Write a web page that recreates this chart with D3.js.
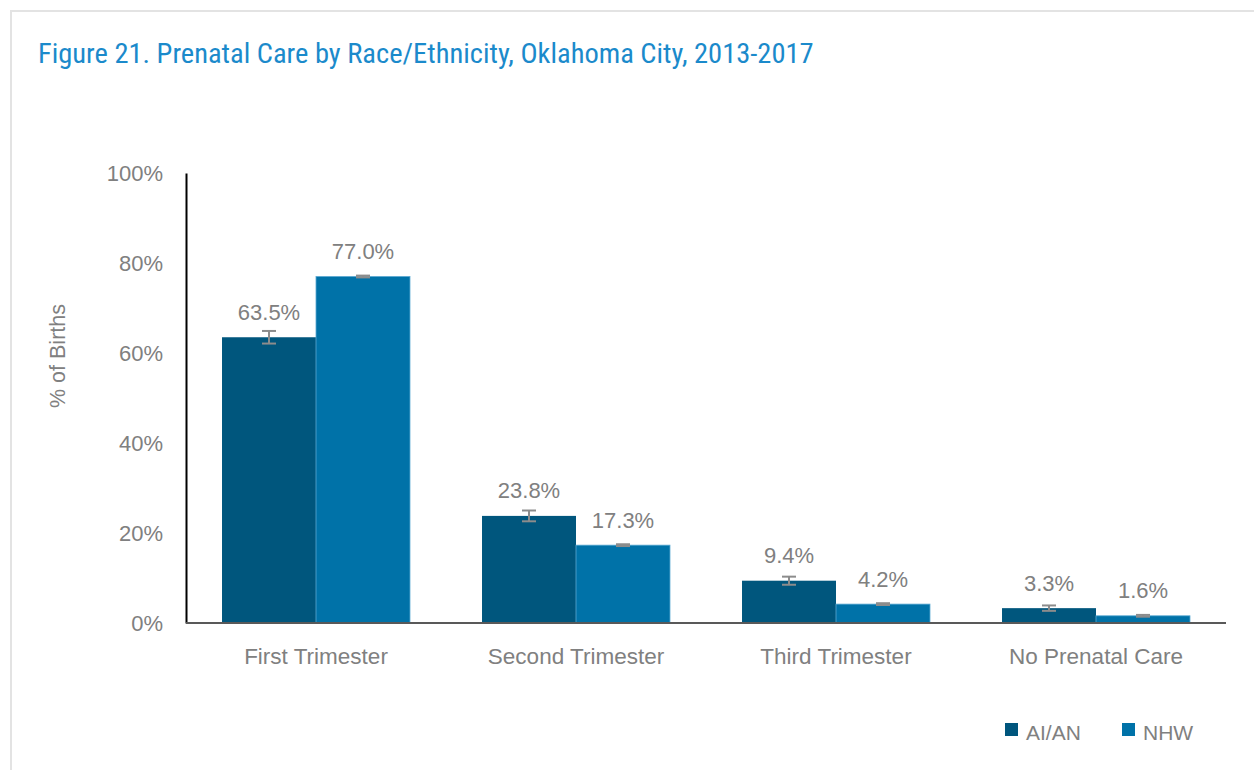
<!DOCTYPE html>
<html>
<head>
<meta charset="utf-8">
<script src="https://cdn.jsdelivr.net/npm/d3@7"></script>
<style>
  html, body { margin: 0; padding: 0; background: #fff; }
  svg { display: block; font-family: "Liberation Sans", Arial, sans-serif; }
</style>
</head>
<body>
<svg id="chart" width="1254" height="770"></svg>
<script>
const categories = ["First Trimester", "Second Trimester", "Third Trimester", "No Prenatal Care"];
const seriesNames = ["AI/AN", "NHW"];
const aianValues = [63.5, 23.8, 9.4, 3.3];
const nhwValues = [77.0, 17.3, 4.2, 1.6];
const aianErrors = [1.4, 1.2, 0.9, 0.6];
const nhwErrors = [0.2, 0.2, 0.2, 0.2];
const yTicks = [0, 20, 40, 60, 80, 100];
const colors = ["#00567D", "#0072A8"];
const titleText = "Figure 21. Prenatal Care by Race/Ethnicity, Oklahoma City, 2013-2017";
const yLabel = "% of Births";

const svg = d3.select("#chart");
const W = 1254, H = 770;
const gray = "#808080";
const FONT = '"Liberation Sans", Arial, sans-serif';

// frame
svg.append("rect").attr("x", 11).attr("y", 11).attr("width", W + 20).attr("height", H + 20)
  .attr("fill", "none").attr("stroke", "#e3e3e3").attr("stroke-width", 2);

svg.append("text").attr("x", 38).attr("y", 63).text(titleText)
  .attr("fill", "#1B8ACB")
  .style("font-size", "28.5px")
  .style("font-family", '"Liberation Sans Narrow", "Arial Narrow", "Roboto Condensed", sans-serif');

const x0 = 186, x1 = 1226, yTop = 173, yBot = 623;
const x = d3.scaleBand().domain(categories).range([x0, x1]).paddingInner(0.277).paddingOuter(0.1385);
const xs = d3.scaleBand().domain(seriesNames).range([0, x.bandwidth()]);
const y = d3.scaleLinear().domain([0, 100]).range([yBot, yTop]);

// y axis
const yAxis = d3.axisLeft(y).tickValues(yTicks).tickFormat(d => d + "%").tickSize(0).tickPadding(23);
const gy = svg.append("g").attr("transform", `translate(${x0},0)`).call(yAxis);
gy.select(".domain").attr("stroke", "#000").attr("stroke-width", 2);
gy.selectAll("text").attr("fill", gray).style("font-size", "22px").style("font-family", FONT);

svg.append("text").attr("transform", `translate(65,356) rotate(-90)`)
  .attr("text-anchor", "middle").attr("fill", gray).style("font-size", "21.5px").text(yLabel);

const data = seriesNames.map((s, i) => ({
  name: s, color: colors[i],
  values: categories.map((c, j) => ({
    cat: c,
    v: i === 0 ? aianValues[j] : nhwValues[j],
    e: i === 0 ? aianErrors[j] : nhwErrors[j]
  }))
}));

data.forEach(s => {
  const g = svg.append("g");
  g.selectAll("rect").data(s.values).enter().append("rect")
    .attr("x", d => x(d.cat) + xs(s.name))
    .attr("y", d => y(d.v))
    .attr("width", xs.bandwidth())
    .attr("height", d => y(0) - y(d.v))
    .attr("fill", s.color)
    .attr("stroke", s.name === "NHW" ? "#5aa9d2" : "none")
    .attr("stroke-width", 0.8);
  // error bars
  const eg = g.selectAll("g.err").data(s.values).enter().append("g");
  eg.each(function(d) {
    const cx = x(d.cat) + xs(s.name) + xs.bandwidth() / 2;
    const el = d3.select(this);
    const yh = y(d.v + d.e), yl = y(d.v - d.e);
    el.append("line").attr("x1", cx).attr("x2", cx).attr("y1", yh).attr("y2", yl)
      .attr("stroke", "#8c8c8c").attr("stroke-width", 2);
    [yh, yl].forEach(yy => el.append("line").attr("x1", cx - 7).attr("x2", cx + 7).attr("y1", yy).attr("y2", yy)
      .attr("stroke", "#8c8c8c").attr("stroke-width", 2));
  });
  g.selectAll("text").data(s.values).enter().append("text")
    .attr("x", d => x(d.cat) + xs(s.name) + xs.bandwidth() / 2)
    .attr("y", d => y(d.v) - 17.5)
    .attr("text-anchor", "middle").attr("fill", gray).style("font-size", "22px")
    .text(d => d.v.toFixed(1) + "%");
});

// x axis
const xAxis = d3.axisBottom(x).tickSize(0).tickPadding(25);
const gx = svg.append("g").attr("transform", `translate(0,${yBot})`).call(xAxis);
gx.select(".domain").attr("stroke", "#595959").attr("stroke-width", 2).attr("d", `M${x0},0H${x1}`);
gx.selectAll("text").attr("fill", gray).style("font-size", "22.5px").style("font-family", FONT);

// legend
const legendX = [1005, 1122];
const lg = svg.append("g");
data.forEach((s, i) => {
  lg.append("rect").attr("x", legendX[i]).attr("y", 723).attr("width", 13).attr("height", 13).attr("fill", s.color);
  lg.append("text").attr("x", legendX[i] + 21).attr("y", 740).attr("fill", gray).style("font-size", "21px").text(s.name);
});
</script>
</body>
</html>
